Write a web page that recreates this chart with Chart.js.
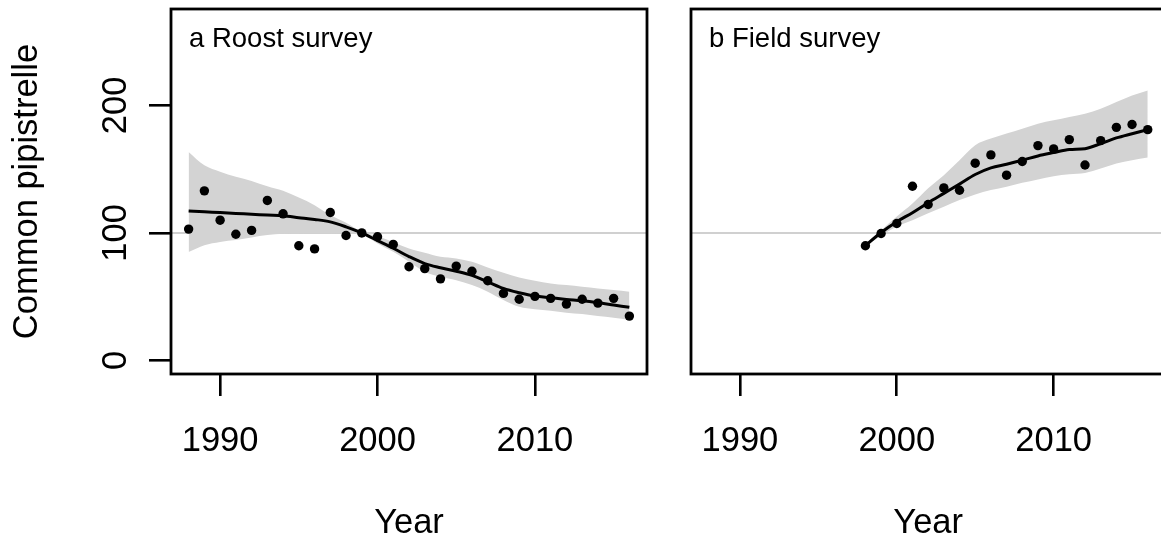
<!DOCTYPE html>
<html>
<head>
<meta charset="utf-8">
<script src="https://cdn.jsdelivr.net/npm/chart.js@4.4.1/dist/chart.umd.min.js"></script>
<style>
  html, body { margin: 0; padding: 0; background: #fff; overflow: hidden; width: 1161px; height: 541px; }
  #left { position: absolute; left: 0; top: 0; }
  #right { position: absolute; left: 670px; top: 0; }
</style>
</head>
<body>
<canvas id="left" width="670" height="541"></canvas>
<canvas id="right" width="500" height="541"></canvas>
<script>
// axis ticks and limits (R style: data range +4%)
const xTicks = [1990, 2000, 2010];
const yTicks = [0, 100, 200];
const xMin = 1986.88, xMax = 2017.12;
const yMin = -10.6, yMax = 275.6;
const refValue = 100;

// a  Roost survey
const roostYears = [1988,1989,1990,1991,1992,1993,1994,1995,1996,1997,1998,1999,2000,2001,2002,
  2003,2004,2005,2006,2007,2008,2009,2010,2011,2012,2013,2014,2015,2016];
const roostIndex = [103,133,110,99,102,125.5,115,90,87.5,116,98,100,97,91,73.5,
  72,64,74,70,62.5,52.6,48,50.3,48.7,44.2,48,45,48.7,34.8];
const roostFit = [117.3,116.6,116,115.3,114.7,114,113.4,112,110.6,108.7,104.8,100,94,88,81.5,
  76,72.7,70,66.7,61.7,56.5,53.1,50.5,49.2,47.9,46.8,45.3,43.5,41.7];
const roostUpper = [163.5,153,148,144,140.8,136.6,133,127.8,121.8,114,108,101,97.5,93,87.8,
  84.4,81.3,80,77.4,73,68.8,65.1,62.5,60.4,59.1,57.8,56.5,55.2,53.9];
const roostLower = [85,90.4,93,94.4,96.5,98.3,99.4,99.6,99.7,99.8,100,99,91.8,85.2,77.4,
  69.5,65.6,63,59.1,53.9,47.4,42.1,40.1,39,37.4,36.4,34.8,33.5,31.7];

// b  Field survey
const fieldYears = [1998,1999,2000,2001,2002,2003,2004,2005,2006,2007,2008,2009,2010,2011,2012,2013,2014,2015,2016];
const fieldIndex = [90,99.6,107.4,136.6,122.3,135.3,133.5,154.7,161.2,145.3,156,168.5,165.9,173.2,153.3,172.4,182.8,185,181];
const fieldFit = [90,100.3,108.8,115.9,123.7,131,138.3,145.8,151,153.9,157,160.4,163,165.4,166.1,170,174.5,177.8,181];
const fieldUpper = [91,102,112.8,123,135,145.3,157,168.8,174,178,181.8,185.7,188.3,190.9,193.5,197.4,202.6,207.8,211.7];
const fieldLower = [89,98,105,110,115.4,120.6,125.8,130.2,133.6,136.2,139.3,142,144.5,146,147.1,150.5,154.4,157,159.1];

const FONT = '"Liberation Sans", Arial, Helvetica, sans-serif';

function pts(xs, ys) { return xs.map((x, i) => ({ x: x, y: ys[i] })); }

const decor = {
  id: 'decor',
  beforeDatasetsDraw(chart) {
    const { ctx, chartArea: a, scales } = chart;
    const y = scales.y.getPixelForValue(refValue);
    ctx.save();
    ctx.strokeStyle = '#c0c0c0';
    ctx.lineWidth = 1.5;
    ctx.beginPath();
    ctx.moveTo(a.left, y);
    ctx.lineTo(a.right, y);
    ctx.stroke();
    ctx.restore();
  },
  afterDraw(chart, args, opts) {
    const { ctx, chartArea: a, scales } = chart;
    ctx.save();
    ctx.strokeStyle = '#000';
    ctx.lineWidth = 2.8;
    ctx.strokeRect(a.left, a.top, a.right - a.left, a.bottom - a.top);

    ctx.fillStyle = '#000';
    ctx.font = '34.5px ' + FONT;
    ctx.textAlign = 'center';
    ctx.textBaseline = 'alphabetic';
    xTicks.forEach(v => ctx.fillText(String(v), scales.x.getPixelForValue(v), 451));
    ctx.fillText('Year', (a.left + a.right) / 2, 533);

    if (opts.yLabels) {
      yTicks.forEach(v => {
        ctx.save();
        ctx.translate(126, scales.y.getPixelForValue(v));
        ctx.rotate(-Math.PI / 2);
        ctx.fillText(String(v), 0, 0);
        ctx.restore();
      });
      ctx.save();
      ctx.translate(37, (a.top + a.bottom) / 2);
      ctx.rotate(-Math.PI / 2);
      ctx.fillText('Common pipistrelle', 0, 0);
      ctx.restore();
    }

    ctx.font = '27.5px ' + FONT;
    ctx.textAlign = 'left';
    ctx.fillText(opts.title, a.left + 18, 47);
    ctx.restore();
  }
};

function makeChart(id, years, index, fit, upper, lower, title, showY, pad) {
  return new Chart(document.getElementById(id), {
    type: 'line',
    data: {
      datasets: [
        { data: pts(years, upper), borderWidth: 0, pointRadius: 0, fill: '+1',
          backgroundColor: '#d3d3d3', cubicInterpolationMode: 'monotone', order: 3 },
        { data: pts(years, lower), borderWidth: 0, pointRadius: 0, fill: false,
          cubicInterpolationMode: 'monotone', order: 4 },
        { data: pts(years, fit), borderColor: '#000', borderWidth: 3, pointRadius: 0,
          fill: false, cubicInterpolationMode: 'monotone', order: 1 },
        { data: pts(years, index), showLine: false, pointRadius: 4.7, pointBorderWidth: 0,
          pointBackgroundColor: '#000', order: 0 }
      ]
    },
    options: {
      responsive: false,
      animation: false,
      layout: { padding: pad },
      plugins: { legend: { display: false }, tooltip: { enabled: false }, decor: { title: title, yLabels: showY } },
      scales: {
        x: {
          type: 'linear', min: xMin, max: xMax, position: 'bottom',
          afterBuildTicks: s => { s.ticks = xTicks.map(v => ({ value: v })); },
          ticks: { display: false },
          border: { display: false },
          grid: { drawOnChartArea: false, drawTicks: true, tickLength: 22, color: '#000', lineWidth: 2.6 }
        },
        y: {
          type: 'linear', min: yMin, max: yMax, display: showY,
          afterBuildTicks: s => { s.ticks = yTicks.map(v => ({ value: v })); },
          ticks: { display: false },
          border: { display: false },
          grid: { drawOnChartArea: false, drawTicks: true, tickLength: 22, color: '#000', lineWidth: 2.6 }
        }
      }
    },
    plugins: [decor]
  });
}

makeChart('left', roostYears, roostIndex, roostFit, roostUpper, roostLower,
  'a Roost survey', true, { left: 149, right: 23, top: 9, bottom: 145 });
makeChart('right', fieldYears, fieldIndex, fieldFit, fieldUpper, fieldLower,
  'b Field survey', false, { left: 21, right: 3, top: 9, bottom: 145 });
</script>
</body>
</html>
